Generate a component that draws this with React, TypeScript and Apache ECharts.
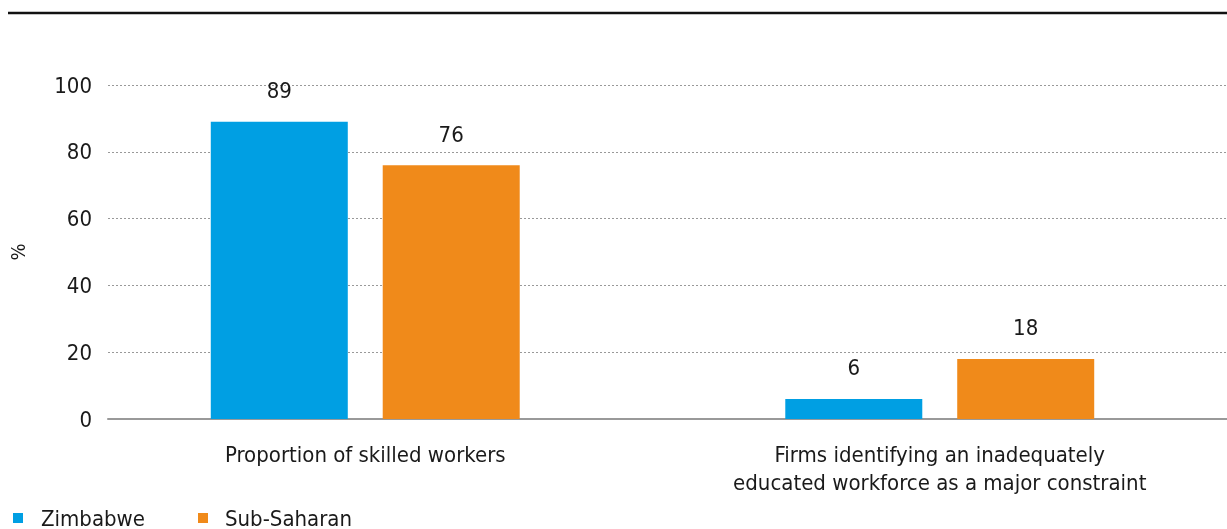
import React, { useEffect, useRef } from "react";
import * as echarts from "echarts";

const categories = [
  "Proportion of skilled workers",
  "Firms identifying an inadequately\neducated workforce as a major constraint",
];
const zimbabwe = [89, 6];
const subSaharan = [76, 18];
const seriesNames = ["Zimbabwe", "Sub-Saharan"];
const yTicks = [0, 20, 40, 60, 80, 100];

const FONT = "'Liberation Sans Narrow', 'DejaVu Sans Condensed', 'Roboto', sans-serif";
const BLUE = "#009fe3";
const ORANGE = "#f08a1a";
const TEXT = "#1a1a1a";

export default function App() {
  const ref = useRef<HTMLDivElement>(null);
  useEffect(() => {
    if (!ref.current) return;
    const chart = echarts.init(ref.current, null, { renderer: "svg" });
    const labelCfg = {
      show: true,
      position: "top",
      distance: 20,
      color: TEXT,
      fontSize: 22,
      fontFamily: FONT,
    };
    chart.setOption({
      animation: false,
      textStyle: { fontFamily: FONT },
      grid: [
        { left: 105, right: 0, top: 85, bottom: 110 },
        { left: 78, right: -9, top: 85, bottom: 110 },
      ],
      xAxis: [
        {
          type: "category",
          gridIndex: 0,
          data: categories,
          axisLine: { show: true, lineStyle: { color: "#999", width: 2 } },
          axisTick: { show: false },
          axisLabel: { show: false },
        },
        {
          type: "category",
          gridIndex: 1,
          data: categories,
          axisLine: { show: false },
          axisTick: { show: false },
          axisLabel: {
            color: TEXT,
            fontSize: 22,
            fontFamily: FONT,
            lineHeight: 28,
            margin: 21,
            interval: 0,
          },
        },
      ],
      yAxis: [
        {
          type: "value",
          gridIndex: 0,
          min: yTicks[0],
          max: yTicks[yTicks.length - 1],
          interval: 20,
          name: "%",
          nameLocation: "middle",
          nameGap: 80,
          nameRotate: 90,
          nameTextStyle: { color: TEXT, fontSize: 20, fontFamily: FONT },
          axisLine: { show: false },
          axisTick: { show: false },
          axisLabel: { color: TEXT, fontSize: 22, fontFamily: FONT, margin: 16 },
          splitLine: { show: true, lineStyle: { color: "#999", type: [2, 2], width: 1.2 } },
        },
        {
          type: "value",
          gridIndex: 1,
          min: yTicks[0],
          max: yTicks[yTicks.length - 1],
          interval: 20,
          show: false,
          splitLine: { show: false },
        },
      ],
      legend: [
        {
          data: [seriesNames[0]],
          left: 8,
          top: 502,
          itemWidth: 10,
          itemHeight: 10,
          icon: "rect",
          textStyle: { color: TEXT, fontSize: 22, fontFamily: FONT, padding: [0, 0, 0, 13] },
        },
        {
          data: [seriesNames[1]],
          left: 193,
          top: 502,
          itemWidth: 10,
          itemHeight: 10,
          icon: "rect",
          textStyle: { color: TEXT, fontSize: 22, fontFamily: FONT, padding: [0, 0, 0, 12] },
        },
      ],
      graphic: [
        {
          type: "line",
          shape: { x1: 8, y1: 13, x2: 1227, y2: 13 },
          style: { stroke: "#111", lineWidth: 2.5 },
        },
      ],
      series: [
        {
          name: seriesNames[0],
          type: "bar",
          xAxisIndex: 1,
          yAxisIndex: 1,
          data: zimbabwe,
          barWidth: 137,
          barGap: "25.5%",
          itemStyle: { color: BLUE },
          label: labelCfg,
        },
        {
          name: seriesNames[1],
          type: "bar",
          xAxisIndex: 1,
          yAxisIndex: 1,
          data: subSaharan,
          barWidth: 137,
          barGap: "25.5%",
          itemStyle: { color: ORANGE },
          label: labelCfg,
        },
      ],
    });
    return () => chart.dispose();
  }, []);
  return (
    <div
      ref={ref}
      style={{ position: "fixed", left: 0, top: 0, width: 1227, height: 529 }}
    />
  );
}
